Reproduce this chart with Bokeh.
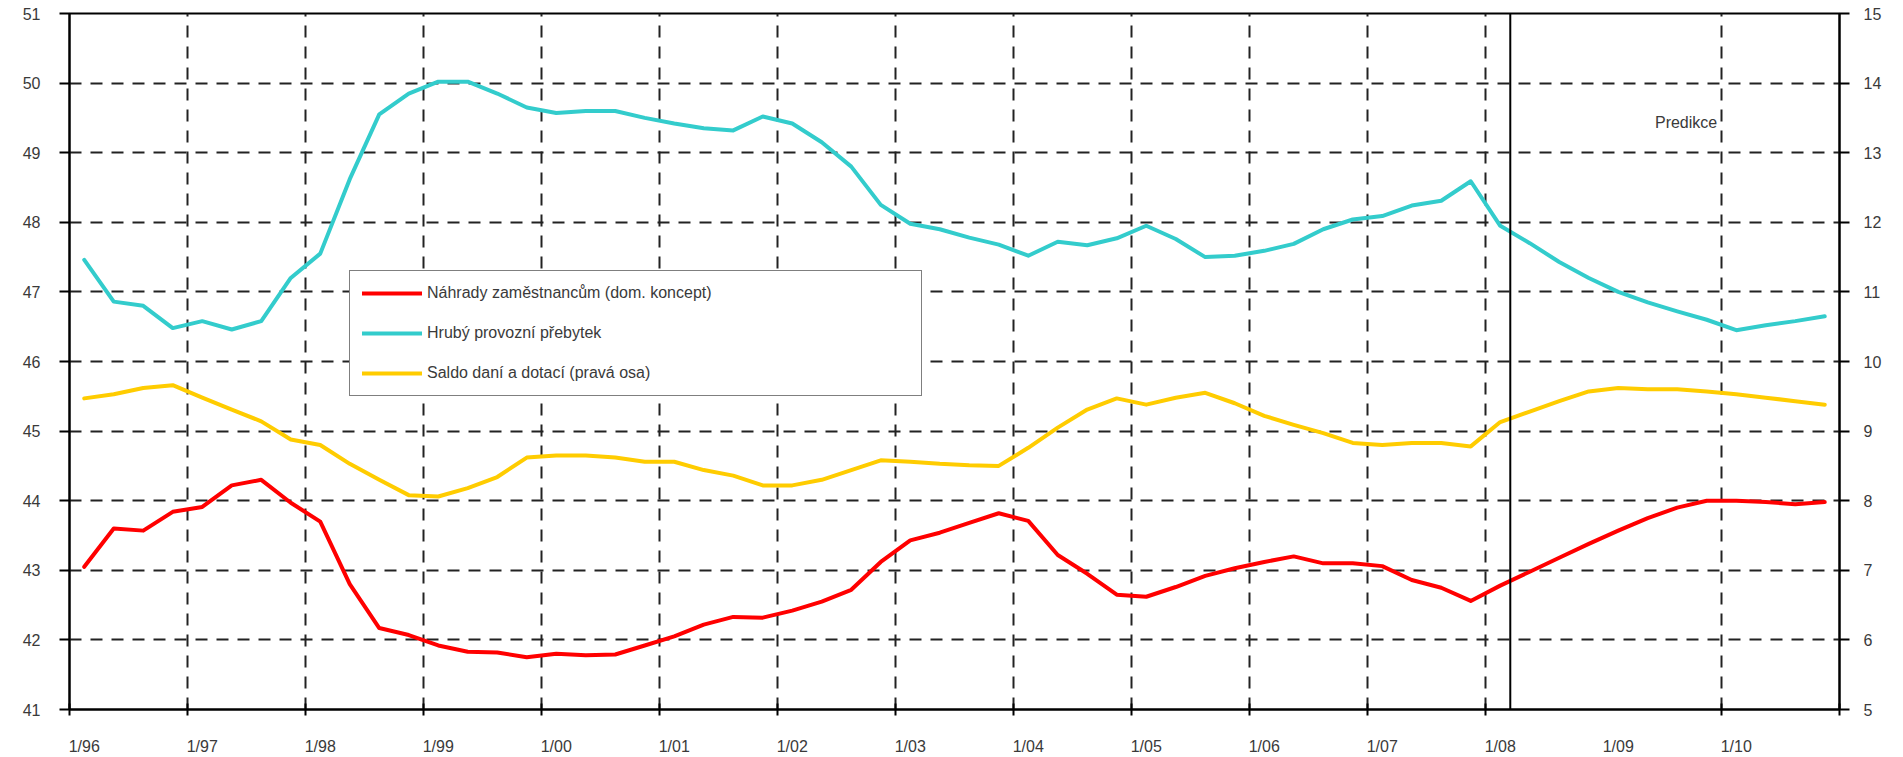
from bokeh.plotting import figure
from bokeh.models import (Range1d, LinearAxis, FixedTicker, Legend, LegendItem,
                          Span, Label, ColumnDataSource)
from bokeh.embed import file_html
from bokeh.resources import INLINE

# ---------------- data ----------------
years = list(range(1996, 2011))
quarters = [1, 2, 3, 4]
# quarter midpoints (categories on a time axis)
x_q = [y + (q - 0.5) / 4 for y in years for q in quarters]

x_labels = ["1/96", "1/97", "1/98", "1/99", "1/00", "1/01", "1/02", "1/03",
            "1/04", "1/05", "1/06", "1/07", "1/08", "1/09", "1/10"]
grid_years = [1997, 1998, 1999, 2000, 2001, 2002, 2003, 2004, 2005, 2006,
              2007, 2008, 2010]
axis_tick_years = [1996] + grid_years + [2011]

left_ticks = [41, 42, 43, 44, 45, 46, 47, 48, 49, 50, 51]
right_ticks = [5, 6, 7, 8, 9, 10, 11, 12, 13, 14, 15]

nahrady = [43.05, 43.60, 43.57, 43.84, 43.91, 44.22, 44.30, 43.97,
           43.70, 42.80, 42.17, 42.07, 41.92, 41.83, 41.82, 41.75,
           41.80, 41.78, 41.79, 41.92, 42.05, 42.22, 42.33, 42.32,
           42.42, 42.55, 42.72, 43.12, 43.43, 43.54, 43.68, 43.82,
           43.71, 43.22, 42.95, 42.65, 42.62, 42.76, 42.92, 43.03,
           43.12, 43.20, 43.10, 43.10, 43.06, 42.86, 42.75, 42.56,
           42.78, 42.98, 43.18, 43.38, 43.57, 43.75, 43.90, 44.00,
           44.00, 43.98, 43.95, 43.98]

hruby = [47.46, 46.86, 46.80, 46.48, 46.58, 46.46, 46.58, 47.20,
         47.55, 48.62, 49.55, 49.85, 50.02, 50.02, 49.85, 49.65,
         49.57, 49.60, 49.60, 49.50, 49.42, 49.35, 49.32, 49.52,
         49.42, 49.15, 48.80, 48.25, 47.98, 47.90, 47.78, 47.68,
         47.52, 47.72, 47.67, 47.77, 47.95, 47.76, 47.50, 47.52,
         47.59, 47.69, 47.90, 48.04, 48.09, 48.24, 48.31, 48.59,
         47.95, 47.70, 47.43, 47.20, 47.00, 46.85, 46.72, 46.60,
         46.45, 46.52, 46.58, 46.65]

saldo = [9.47, 9.53, 9.62, 9.66, 9.48, 9.31, 9.14, 8.88,
         8.80, 8.53, 8.30, 8.08, 8.06, 8.18, 8.34, 8.62,
         8.65, 8.65, 8.62, 8.56, 8.56, 8.44, 8.36, 8.22,
         8.22, 8.30, 8.44, 8.58, 8.56, 8.53, 8.51, 8.50,
         8.76, 9.05, 9.31, 9.47, 9.38, 9.48, 9.55, 9.40,
         9.22, 9.09, 8.97, 8.83, 8.80, 8.83, 8.83, 8.78,
         9.13, 9.28, 9.43, 9.57, 9.62, 9.60, 9.60, 9.57,
         9.53, 9.48, 9.43, 9.38]

series_names = ["Náhrady zaměstnancům (dom. koncept)",
                "Hrubý provozní přebytek",
                "Saldo daní a dotací (pravá osa)"]
forecast_start = 2008.21
forecast_text = "Predikce"

FONT = "Liberation Sans"
TXT = "#3a3a3a"

src = ColumnDataSource(dict(x=x_q, nahrady=nahrady, hruby=hruby, saldo=saldo))

p = figure(width=1903, height=757, output_backend="svg", toolbar_location=None,
           x_range=Range1d(1996, 2011), y_range=Range1d(41, 51),
           min_border_left=69, min_border_right=64, min_border_top=13,
           min_border_bottom=43)
p.extra_y_ranges = {"right": Range1d(5, 15)}

p.outline_line_color = "black"
p.outline_line_width = 2
p.background_fill_color = "white"
p.border_fill_color = "white"

# grids
p.xgrid.ticker = FixedTicker(ticks=grid_years)
p.ygrid.ticker = FixedTicker(ticks=left_ticks[1:-1])
for g in (p.xgrid, p.ygrid):
    g.grid_line_color = "#222222"
    g.grid_line_width = 2
    g.grid_line_dash = "12 9"

# x axis
label_pos = [y + 0.125 for y in years]
xa = p.xaxis[0]
xa.ticker = FixedTicker(ticks=label_pos, minor_ticks=axis_tick_years)
xa.major_label_overrides = {pos: lab for pos, lab in zip(label_pos, x_labels)}
xa.major_tick_in = 0
xa.major_tick_out = 0
xa.minor_tick_in = 6
xa.minor_tick_out = 6
xa.minor_tick_line_color = "black"
xa.minor_tick_line_width = 2
xa.major_label_standoff = 22

# left axis
ya = p.yaxis[0]
ya.ticker = FixedTicker(ticks=left_ticks)
ya.major_tick_out = 10
ya.major_tick_in = 0
ya.minor_tick_out = 0
ya.minor_tick_in = 0
ya.major_label_standoff = 19

# right axis
ra = LinearAxis(y_range_name="right", ticker=FixedTicker(ticks=right_ticks))
ra.major_tick_out = 10
ra.major_tick_in = 0
ra.minor_tick_out = 0
ra.minor_tick_in = 0
ra.major_label_standoff = 14
p.add_layout(ra, "right")

for ax in (xa, ya, ra):
    ax.axis_line_color = "black"
    ax.axis_line_width = 2
    ax.major_tick_line_color = "black"
    ax.major_tick_line_width = 2
    ax.major_label_text_font = FONT
    ax.major_label_text_font_size = "16px"
    ax.major_label_text_color = TXT

# series
r1 = p.line("x", "nahrady", source=src, line_color="#FF0000", line_width=4,
            line_join="round", line_cap="round")
r2 = p.line("x", "hruby", source=src, line_color="#33CCCC", line_width=4,
            line_join="round", line_cap="round")
r3 = p.line("x", "saldo", source=src, y_range_name="right", line_color="#FFCC00",
            line_width=4, line_join="round", line_cap="round")

# forecast divider
p.add_layout(Span(location=forecast_start, dimension="height",
                  line_color="black", line_width=2))
p.add_layout(Label(x=2009.7, y=49.44, text=forecast_text, text_align="center",
                   text_baseline="middle", text_font=FONT,
                   text_font_size="16px", text_color=TXT))

legend = Legend(items=[LegendItem(label=series_names[0], renderers=[r1]),
                       LegendItem(label=series_names[1], renderers=[r2]),
                       LegendItem(label=series_names[2], renderers=[r3])],
                location=(280, 313), orientation="vertical",
                border_line_color="black", border_line_width=1.5,
                background_fill_color="white", background_fill_alpha=1.0,
                glyph_width=60, glyph_height=20, label_height=20,
                spacing=20, padding=12, margin=0, label_standoff=5,
                label_width=482, label_text_font=FONT,
                label_text_font_size="16px", label_text_color=TXT)
p.add_layout(legend)

open("out.html", "w").write(file_html(p, INLINE))
